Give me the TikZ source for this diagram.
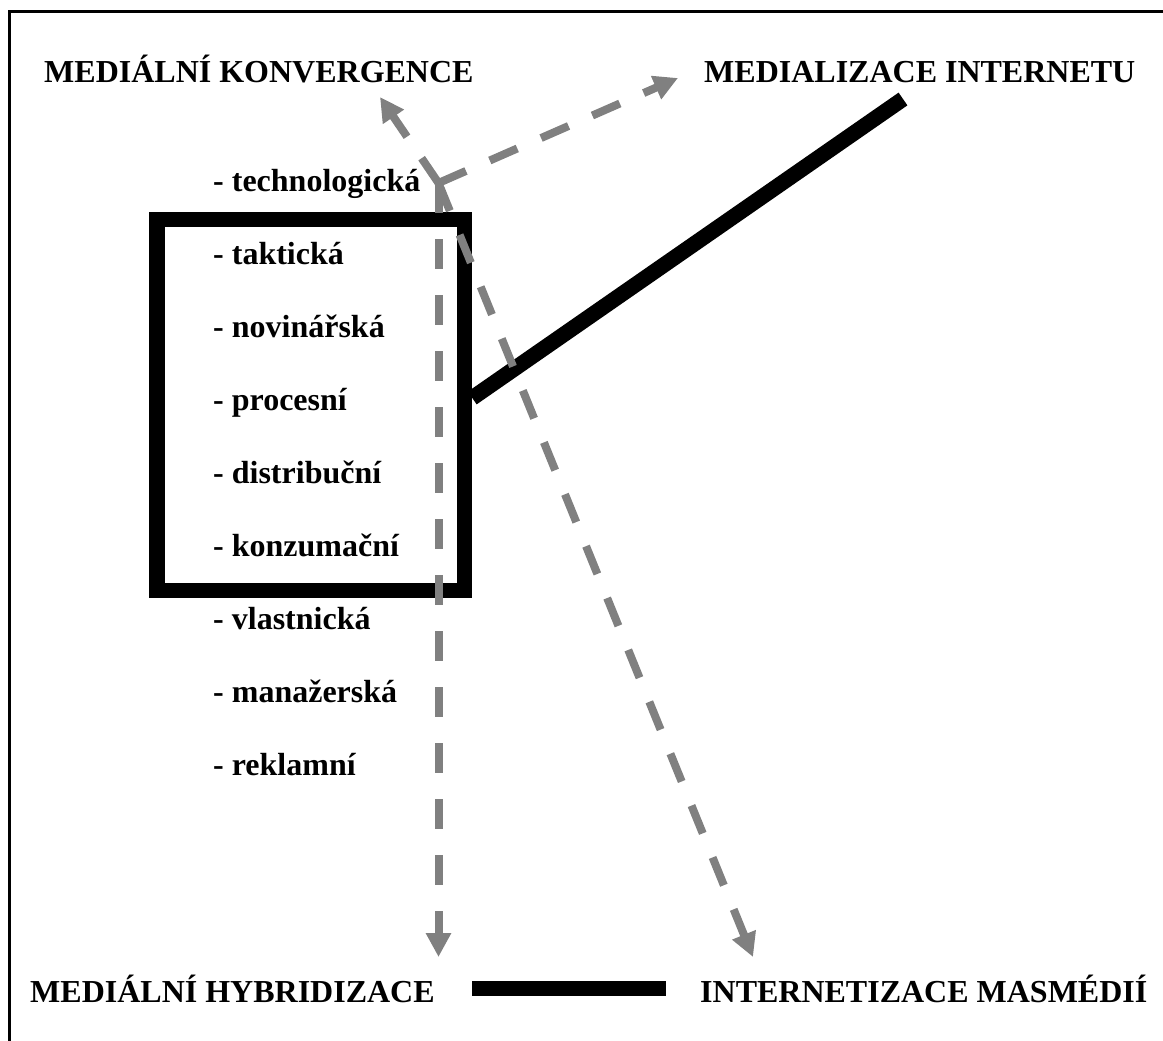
\documentclass[tikz,border=0pt]{standalone}
\usepackage{fontspec}
\setmainfont{Liberation Serif}
\usetikzlibrary{arrows.meta}

\begin{document}
\begin{tikzpicture}[x=1pt,y=-1pt,
        lbl/.style={inner sep=0pt,anchor=base west,font=\fontsize{32}{38}\selectfont\bfseries},
        link/.style={gray,line width=8pt,dash pattern=on 30pt off 26pt,-{Triangle[length=24pt,width=24pt]}},
        bar/.style={line width=15.5pt}]
        \useasboundingbox (0,0) rectangle (1163,1041);
        \draw[line width=2.5pt] (9.5,1041) -- (9.5,11.5) -- (1163,11.5);
        \node[lbl] (konv) at (44,82) {MEDIÁLNÍ KONVERGENCE};
        \node[lbl] (inet) at (704,82) {MEDIALIZACE INTERNETU};
        \node[lbl] (hybr) at (30,1002) {MEDIÁLNÍ HYBRIDIZACE};
        \node[lbl] (masm) at (700,1002) {INTERNETIZACE MASMÉDIÍ};
        \foreach \t [count=\i] in {technologická,taktická,novinářská,procesní,distribuční,konzumační,vlastnická,manažerská,reklamní}
            \node[lbl] (it\i) at (213,{191+73*(\i-1)}) {- \t};
        \node[draw,bar,minimum width=307.5pt,minimum height=371pt,inner sep=0pt] (box) at (310.75,405) {};
        \coordinate (inetEnd) at (903,99);
        \draw[bar] ([yshift=7pt]box.east) -- (inetEnd);
        \coordinate (barL) at (472,988.5);
        \coordinate (barR) at (666,988.5);
        \draw[bar] (barL) -- (barR);
        \coordinate (hub) at (438.5,183);
        \coordinate (tipK) at (380,97);
        \coordinate (tipI) at (678,78);
        \coordinate (tipH) at (438.5,957);
        \coordinate (tipM) at (753,957);
        \draw[link] (hub) -- (tipK);
        \draw[link] (hub) -- (tipI);
        \draw[link] (hub) -- (tipH);
        \draw[link] (hub) -- (tipM);
    \end{tikzpicture}
\end{document}
